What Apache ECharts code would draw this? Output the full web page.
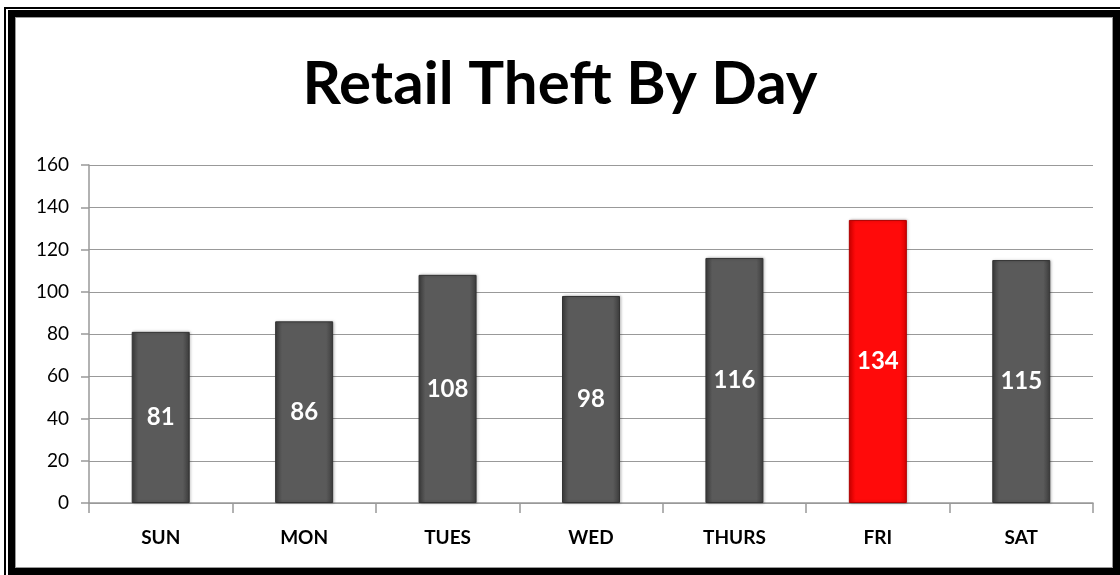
<!DOCTYPE html>
<html lang="en">
<head>
<meta charset="UTF-8">
<script src="https://cdn.jsdelivr.net/npm/echarts@6/dist/echarts.min.js"></script>
<title>Retail Theft By Day</title>
<style>
  body { margin: 0; background: #fff; }
  #frame { position: relative; width: 1120px; height: 575px; overflow: hidden; }
  .b1 { position: absolute; left: 4px; top: 7px; right: 0; bottom: 0; border: 2px solid #000; border-right: none; border-bottom: none; }
  .b2 { position: absolute; left: 8px; top: 10px; right: 0px; bottom: 0px; border: 7px solid #000; }
  .b3 { position: absolute; left: 15px; top: 17px; right: 7px; bottom: 7px; border: 1.5px solid #9a9a9a; }
  #main { position: absolute; left: 0; top: 0; width: 1120px; height: 575px; }
</style>
</head>
<body>
<div id="frame">
  <div class="b1"></div>
  <div class="b2"></div>
  <div class="b3"></div>
  <div id="main"></div>
</div>
<script type="text/javascript">
    var days = ['SUN', 'MON', 'TUES', 'WED', 'THURS', 'FRI', 'SAT'];
    var thefts = [81, 86, 108, 98, 116, 134, 115];
    var highlightDay = 'FRI';

    var myChart = echarts.init(document.getElementById('main'));

    // 灰色柱子 / 红色柱子
    function barStyle(red) {
        var edge = red ? '#d80000' : '#3c3c3c';
        var mid = red ? '#ff0a0a' : '#5a5a5a';
        return {
            color: new echarts.graphic.LinearGradient(0, 0, 1, 0, [
                { offset: 0, color: edge },
                { offset: 0.12, color: mid },
                { offset: 0.88, color: mid },
                { offset: 1, color: edge }
            ]),
            borderColor: red ? '#b00000' : '#333',
            borderWidth: 1,
            shadowColor: 'rgba(0,0,0,0.25)',
            shadowBlur: 3,
            shadowOffsetX: 1
        };
    }

    var barData = [];
    for (var i = 0; i < days.length; i++) {
        barData.push({
            value: thefts[i],
            itemStyle: barStyle(days[i] === highlightDay)
        });
    }

    var option = {
        animation: false,
        title: {
            text: 'Retail Theft By Day',
            left: 'center',
            top: 50,
            textStyle: {
                fontFamily: 'Lato',
                fontWeight: 'bold',
                fontSize: 60,
                color: '#000'
            }
        },
        grid: {
            left: 89,
            right: 27,
            top: 165,
            bottom: 72
        },
        xAxis: {
            type: 'category',
            data: days,
            axisLine: { lineStyle: { color: '#999', width: 1.5 } },
            axisTick: { show: true, length: 10, lineStyle: { color: '#999', width: 1.5 } },
            axisLabel: {
                margin: 25,
                fontFamily: 'Lato',
                fontWeight: 'bold',
                fontSize: 19,
                color: '#000'
            }
        },
        yAxis: {
            type: 'value',
            min: 0,
            max: 160,
            interval: 20,
            axisLine: { show: true, lineStyle: { color: '#999', width: 1.5 } },
            axisTick: { show: true, length: 8, lineStyle: { color: '#999', width: 1.5 } },
            splitLine: { lineStyle: { color: '#999', width: 1.2 } },
            axisLabel: {
                margin: 20,
                fontFamily: 'Lato',
                fontSize: 19,
                color: '#000'
            }
        },
        series: [
            {
                type: 'bar',
                data: barData,
                barWidth: 58,
                label: {
                    show: true,
                    position: 'inside',
                    color: '#fff',
                    fontFamily: 'Lato',
                    fontWeight: 'bold',
                    fontSize: 24
                }
            }
        ]
    };
    myChart.setOption(option);
</script>
</body>
</html>
